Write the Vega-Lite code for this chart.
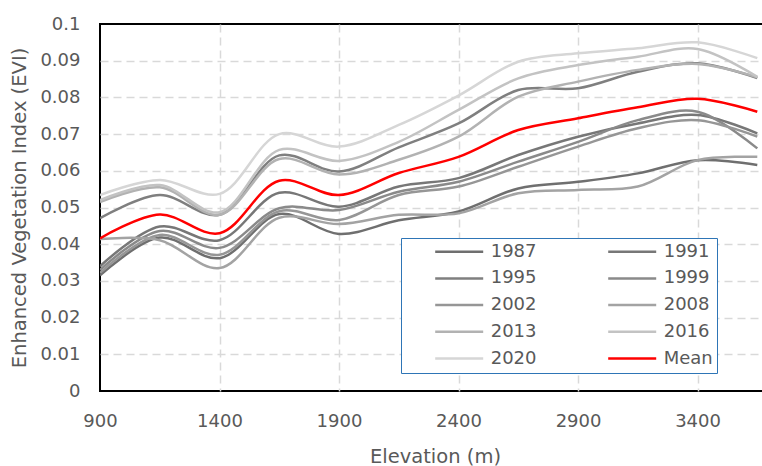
{
  "$schema": "https://vega.github.io/schema/vega-lite/v6.json",
  "width": 680,
  "height": 367,
  "autosize": {"type": "none"},
  "padding": {"left": 100, "top": 24, "right": 0, "bottom": 75},
  "config": {"view": {"stroke": "#000000", "strokeWidth": 2}, "font": "DejaVu Sans"},
  "data": {"values": [
    {"e":900,"v":0.0315,"s":"1987"},{"e":1150,"v":0.0418,"s":"1987"},{"e":1400,"v":0.0362,"s":"1987"},{"e":1650,"v":0.0482,"s":"1987"},{"e":1900,"v":0.0428,"s":"1987"},{"e":2150,"v":0.0465,"s":"1987"},{"e":2400,"v":0.0489,"s":"1987"},{"e":2650,"v":0.0552,"s":"1987"},{"e":2900,"v":0.0570,"s":"1987"},{"e":3150,"v":0.0593,"s":"1987"},{"e":3400,"v":0.0629,"s":"1987"},{"e":3650,"v":0.0616,"s":"1987"},
    {"e":900,"v":0.0340,"s":"1991"},{"e":1150,"v":0.0448,"s":"1991"},{"e":1400,"v":0.0411,"s":"1991"},{"e":1650,"v":0.0540,"s":"1991"},{"e":1900,"v":0.0502,"s":"1991"},{"e":2150,"v":0.0557,"s":"1991"},{"e":2400,"v":0.0580,"s":"1991"},{"e":2650,"v":0.0643,"s":"1991"},{"e":2900,"v":0.0693,"s":"1991"},{"e":3150,"v":0.0729,"s":"1991"},{"e":3400,"v":0.0752,"s":"1991"},{"e":3650,"v":0.0702,"s":"1991"},
    {"e":900,"v":0.0471,"s":"1995"},{"e":1150,"v":0.0534,"s":"1995"},{"e":1400,"v":0.0480,"s":"1995"},{"e":1650,"v":0.0642,"s":"1995"},{"e":1900,"v":0.0598,"s":"1995"},{"e":2150,"v":0.0664,"s":"1995"},{"e":2400,"v":0.0729,"s":"1995"},{"e":2650,"v":0.0820,"s":"1995"},{"e":2900,"v":0.0825,"s":"1995"},{"e":3150,"v":0.0870,"s":"1995"},{"e":3400,"v":0.0893,"s":"1995"},{"e":3650,"v":0.0853,"s":"1995"},
    {"e":900,"v":0.0330,"s":"1999"},{"e":1150,"v":0.0436,"s":"1999"},{"e":1400,"v":0.0390,"s":"1999"},{"e":1650,"v":0.0498,"s":"1999"},{"e":1900,"v":0.0493,"s":"1999"},{"e":2150,"v":0.0543,"s":"1999"},{"e":2400,"v":0.0570,"s":"1999"},{"e":2650,"v":0.0625,"s":"1999"},{"e":2900,"v":0.0679,"s":"1999"},{"e":3150,"v":0.0738,"s":"1999"},{"e":3400,"v":0.0761,"s":"1999"},{"e":3650,"v":0.0661,"s":"1999"},
    {"e":900,"v":0.0322,"s":"2002"},{"e":1150,"v":0.0425,"s":"2002"},{"e":1400,"v":0.0371,"s":"2002"},{"e":1650,"v":0.0490,"s":"2002"},{"e":1900,"v":0.0466,"s":"2002"},{"e":2150,"v":0.0534,"s":"2002"},{"e":2400,"v":0.0557,"s":"2002"},{"e":2650,"v":0.0611,"s":"2002"},{"e":2900,"v":0.0666,"s":"2002"},{"e":3150,"v":0.0716,"s":"2002"},{"e":3400,"v":0.0738,"s":"2002"},{"e":3650,"v":0.0693,"s":"2002"},
    {"e":900,"v":0.0414,"s":"2008"},{"e":1150,"v":0.0411,"s":"2008"},{"e":1400,"v":0.0335,"s":"2008"},{"e":1650,"v":0.0472,"s":"2008"},{"e":1900,"v":0.0455,"s":"2008"},{"e":2150,"v":0.0480,"s":"2008"},{"e":2400,"v":0.0484,"s":"2008"},{"e":2650,"v":0.0539,"s":"2008"},{"e":2900,"v":0.0548,"s":"2008"},{"e":3150,"v":0.0557,"s":"2008"},{"e":3400,"v":0.0629,"s":"2008"},{"e":3650,"v":0.0638,"s":"2008"},
    {"e":900,"v":0.0515,"s":"2013"},{"e":1150,"v":0.0555,"s":"2013"},{"e":1400,"v":0.0480,"s":"2013"},{"e":1650,"v":0.0632,"s":"2013"},{"e":1900,"v":0.0590,"s":"2013"},{"e":2150,"v":0.0630,"s":"2013"},{"e":2400,"v":0.0693,"s":"2013"},{"e":2650,"v":0.0802,"s":"2013"},{"e":2900,"v":0.0843,"s":"2013"},{"e":3150,"v":0.0875,"s":"2013"},{"e":3400,"v":0.0891,"s":"2013"},{"e":3650,"v":0.0855,"s":"2013"},
    {"e":900,"v":0.0520,"s":"2016"},{"e":1150,"v":0.0561,"s":"2016"},{"e":1400,"v":0.0487,"s":"2016"},{"e":1650,"v":0.0657,"s":"2016"},{"e":1900,"v":0.0627,"s":"2016"},{"e":2150,"v":0.0679,"s":"2016"},{"e":2400,"v":0.0766,"s":"2016"},{"e":2650,"v":0.0852,"s":"2016"},{"e":2900,"v":0.0888,"s":"2016"},{"e":3150,"v":0.0911,"s":"2016"},{"e":3400,"v":0.0932,"s":"2016"},{"e":3650,"v":0.0856,"s":"2016"},
    {"e":900,"v":0.0534,"s":"2020"},{"e":1150,"v":0.0575,"s":"2020"},{"e":1400,"v":0.0537,"s":"2020"},{"e":1650,"v":0.0700,"s":"2020"},{"e":1900,"v":0.0666,"s":"2020"},{"e":2150,"v":0.0725,"s":"2020"},{"e":2400,"v":0.0805,"s":"2020"},{"e":2650,"v":0.0897,"s":"2020"},{"e":2900,"v":0.0920,"s":"2020"},{"e":3150,"v":0.0934,"s":"2020"},{"e":3400,"v":0.0950,"s":"2020"},{"e":3650,"v":0.0907,"s":"2020"},
    {"e":900,"v":0.0416,"s":"Mean"},{"e":1150,"v":0.0481,"s":"Mean"},{"e":1400,"v":0.0430,"s":"Mean"},{"e":1650,"v":0.0573,"s":"Mean"},{"e":1900,"v":0.0534,"s":"Mean"},{"e":2150,"v":0.0594,"s":"Mean"},{"e":2400,"v":0.0638,"s":"Mean"},{"e":2650,"v":0.0711,"s":"Mean"},{"e":2900,"v":0.0743,"s":"Mean"},{"e":3150,"v":0.0773,"s":"Mean"},{"e":3400,"v":0.0796,"s":"Mean"},{"e":3650,"v":0.0761,"s":"Mean"}
  ]},
  "mark": {"type": "line", "interpolate": "catmull-rom", "clip": true},
  "encoding": {
    "x": {
      "field": "e", "type": "quantitative",
      "scale": {"domain": [900, 3745], "nice": false, "zero": false},
      "axis": {
        "values": [900, 1400, 1900, 2400, 2900, 3400],
        "format": "d",
        "title": "Elevation (m)",
        "grid": true, "gridDash": [8, 5], "gridWidth": 1.5,
        "gridColor": {"condition": {"test": "datum.value == 900", "value": "transparent"}, "value": "#d9d9d9"},
        "domain": false, "ticks": false,
        "labelFontSize": 18, "labelColor": "#595959", "labelPadding": 21, "labelFlush": false,
        "titleFontSize": 19.5, "titleColor": "#595959", "titleFontWeight": "normal", "titlePadding": 17,
        "titleX": 335
      }
    },
    "y": {
      "field": "v", "type": "quantitative",
      "scale": {"domain": [0, 0.1], "nice": false},
      "axis": {
        "values": [0, 0.01, 0.02, 0.03, 0.04, 0.05, 0.06, 0.07, 0.08, 0.09, 0.1],
        "format": ".2~f",
        "title": "Enhanced Vegetation Index (EVI)",
        "grid": true, "gridDash": [8, 5], "gridWidth": 1.5,
        "gridColor": {"condition": {"test": "datum.value == 0 || datum.value == 0.1", "value": "transparent"}, "value": "#d9d9d9"},
        "domain": false, "ticks": false,
        "labelFontSize": 18, "labelColor": "#595959", "labelPadding": 20,
        "titleFontSize": 19.5, "titleColor": "#595959", "titleFontWeight": "normal", "titlePadding": 10
      }
    },
    "color": {
      "field": "s", "type": "nominal",
      "scale": {
        "domain": ["1987","1991","1995","1999","2002","2008","2013","2016","2020","Mean"],
        "range": ["#6f6f6f","#777777","#7f7f7f","#8a8a8a","#969696","#a3a3a3","#b2b2b2","#c3c3c3","#d6d6d6","#ff0000"]
      },
      "legend": {
        "orient": "none", "legendX": 301, "legendY": 214,
        "title": " ", "titleOrient": "left", "titleFontSize": 1, "titlePadding": 29,
        "columns": 2, "direction": "horizontal",
        "symbolType": "stroke", "symbolSize": 2304, "symbolStrokeWidth": 3,
        "clipHeight": 20,
        "labelFontSize": 18, "labelColor": "#595959", "labelOffset": 6,
        "labelExpr": "datum.index % 2 == 1 ? datum.label + '\u00a0\u00a0\u00a0\u00a0\u00a0\u00a0' : datum.label",
        "columnPadding": 70, "rowPadding": 6.7,
        "strokeColor": "#2e75b6", "fillColor": "white", "padding": 3.7
      }
    },
    "strokeWidth": {
      "field": "s", "type": "nominal",
      "scale": {
        "domain": ["1987","1991","1995","1999","2002","2008","2013","2016","2020","Mean"],
        "range": [2.5,2.5,2.5,2.5,2.5,2.5,2.5,2.5,2.5,3]
      },
      "legend": null
    }
  }
}
